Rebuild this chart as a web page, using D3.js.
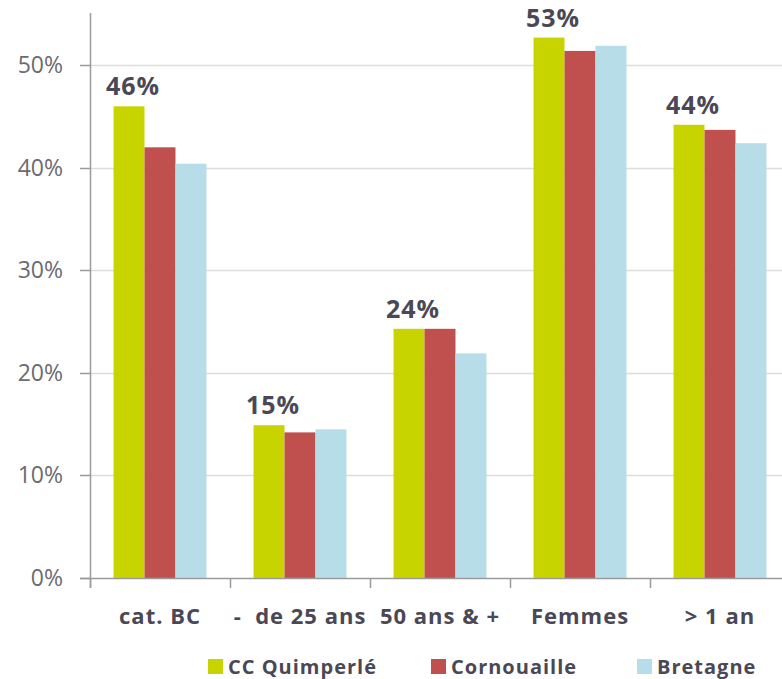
<!DOCTYPE html>
<html>
<head>
<meta charset="utf-8">
<script src="https://cdn.jsdelivr.net/npm/d3@7"></script>
<style>
  body { margin: 0; background: #fff; }
  svg { display: block; font-family: "Open Sans", sans-serif; }
  .tick-label { fill: #6b6b70; font-size: 23px; }
  .cat-label { fill: #4a4855; font-size: 22px; font-weight: bold; letter-spacing: 1px; }
  .val-label { fill: #4a4855; font-size: 25px; font-weight: bold; letter-spacing: 1px; }
  .legend-label { fill: #4a4855; font-size: 20px; font-weight: bold; letter-spacing: 1px; }
</style>
</head>
<body>
<svg id="chart" width="782" height="679"></svg>
<script>
const categories = ["cat. BC", "-  de 25 ans", "50 ans & +", "Femmes", "> 1 an"];
const series = ["CC Quimperlé", "Cornouaille", "Bretagne"];
const quimperle = [46.0, 14.9, 24.3, 52.7, 44.2];
const cornouaille = [42.0, 14.2, 24.3, 51.4, 43.7];
const bretagne = [40.4, 14.5, 21.9, 51.9, 42.4];
const highlight = ["46%", "15%", "24%", "53%", "44%"];
const yTicks = [0, 10, 20, 30, 40, 50];
const colors = ["#c8d400", "#c0504d", "#b7dde8"];

const values = [quimperle, cornouaille, bretagne];
const svg = d3.select("#chart");

const x0 = d3.scaleBand().domain(categories).range([90, 790]).padding(0);
const x1 = d3
  .scaleBand()
  .domain(series)
  .range([0, x0.bandwidth()])
  .paddingInner(0)
  .paddingOuter(0.76);
const y = d3.scaleLinear().domain([0, 55]).range([578, 14]);

// gridlines
svg
  .append("g")
  .selectAll("line")
  .data(yTicks.filter(t => t > 0))
  .enter()
  .append("line")
  .attr("x1", 90)
  .attr("x2", 782)
  .attr("y1", d => Math.round(y(d)) + 0.5)
  .attr("y2", d => Math.round(y(d)) + 0.5)
  .attr("stroke", "#dcdcdc")
  .attr("stroke-width", 1.5);

// bars
const group = svg
  .append("g")
  .selectAll("g")
  .data(categories)
  .enter()
  .append("g")
  .attr("transform", d => "translate(" + x0(d) + ",0)");

group
  .selectAll("rect")
  .data((d, i) => series.map((s, j) => ({ s: s, v: values[j][i], j: j })))
  .enter()
  .append("rect")
  .attr("x", d => x1(d.s))
  .attr("width", x1.bandwidth())
  .attr("y", d => y(d.v))
  .attr("height", d => y(0) - y(d.v))
  .attr("fill", d => colors[d.j]);

// value labels above the first series
group
  .append("text")
  .attr("class", "val-label")
  .attr("text-anchor", "middle")
  .attr("x", x1(series[0]) + x1.bandwidth() / 2 + 4)
  .attr("y", (d, i) => y(quimperle[i]) - 11)
  .text((d, i) => highlight[i]);

// y axis
const yAxis = svg.append("g").attr("stroke", "#9a9a9a").attr("stroke-width", 1.5);
yAxis
  .append("line")
  .attr("x1", 90.5)
  .attr("x2", 90.5)
  .attr("y1", 13)
  .attr("y2", y(0) + 10);
yAxis
  .selectAll(".yt")
  .data(yTicks)
  .enter()
  .append("line")
  .attr("x1", 80)
  .attr("x2", 90)
  .attr("y1", d => Math.round(y(d)) + 0.5)
  .attr("y2", d => Math.round(y(d)) + 0.5);

svg
  .append("g")
  .selectAll("text")
  .data(yTicks)
  .enter()
  .append("text")
  .attr("class", "tick-label")
  .attr("text-anchor", "end")
  .attr("x", 63)
  .attr("y", d => y(d) + 8)
  .text(d => d + "%");

// x axis
yAxis
  .append("line")
  .attr("x1", 80)
  .attr("x2", 782)
  .attr("y1", Math.round(y(0)) + 0.5)
  .attr("y2", Math.round(y(0)) + 0.5);
yAxis
  .selectAll(".xt")
  .data(categories)
  .enter()
  .append("line")
  .attr("x1", d => x0(d) + 0.5)
  .attr("x2", d => x0(d) + 0.5)
  .attr("y1", y(0))
  .attr("y2", y(0) + 10);

svg
  .append("g")
  .selectAll("text")
  .data(categories)
  .enter()
  .append("text")
  .attr("class", "cat-label")
  .attr("text-anchor", "middle")
  .attr("x", d => x0(d) + x0.bandwidth() / 2)
  .attr("y", 624)
  .attr("xml:space", "preserve")
  .text(d => d);

// legend
const legendX = [208, 431, 637];
const legend = svg
  .append("g")
  .selectAll("g")
  .data(series)
  .enter()
  .append("g")
  .attr("transform", (d, i) => "translate(" + legendX[i] + ",659)");

legend
  .append("rect")
  .attr("width", 15)
  .attr("height", 15)
  .attr("fill", (d, i) => colors[i]);

legend
  .append("text")
  .attr("class", "legend-label")
  .attr("x", 20)
  .attr("y", 15)
  .text(d => d);
</script>
</body>
</html>
